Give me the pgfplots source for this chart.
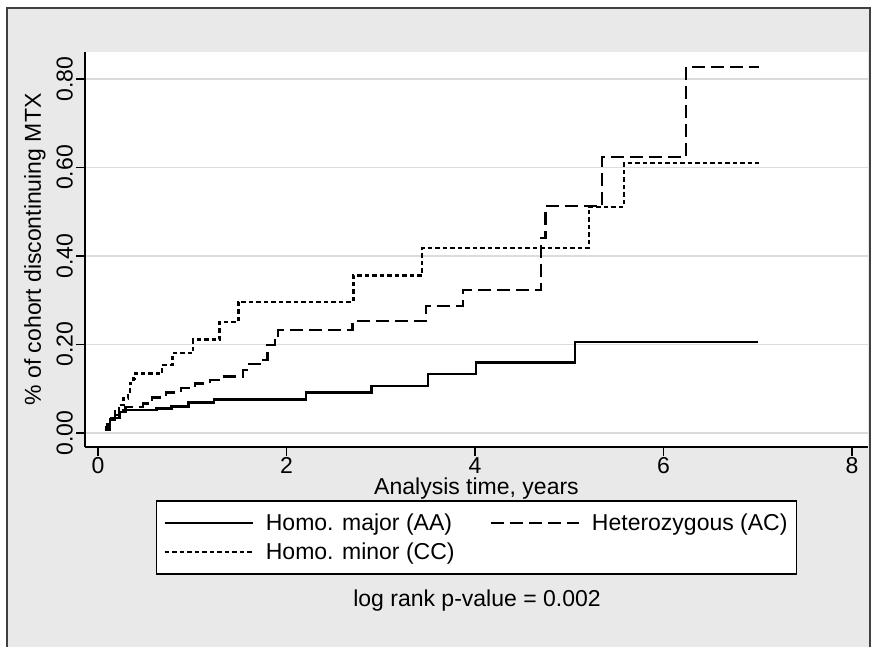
\documentclass[border=0pt]{standalone}
\usepackage{fontspec}
\setmainfont{Liberation Sans}
\usepackage{pgfplots}
\pgfplotsset{compat=1.18}

\definecolor{bggray}{gray}{0.915}
\definecolor{gridgray}{gray}{0.86}
\newcommand{\lab}{\fontsize{23}{23}\selectfont}

% step data: time (years), cumulative failure after the step
\pgfplotstableread{
t v
0.07 0.007
0.10 0.020
0.13 0.030
0.18 0.040
0.23 0.047
0.27 0.051
0.62 0.055
0.78 0.060
0.96 0.069
1.23 0.075
2.21 0.091
2.90 0.106
3.50 0.133
4.01 0.159
5.06 0.206
7.00 0.206
}\major
\pgfplotstableread{
t v
0.07 0.007
0.13 0.033
0.23 0.048
0.29 0.058
0.48 0.066
0.57 0.080
0.72 0.091
0.88 0.102
1.03 0.112
1.19 0.120
1.30 0.127
1.54 0.142
1.58 0.155
1.75 0.165
1.80 0.198
1.88 0.209
1.91 0.232
2.70 0.253
3.48 0.287
3.87 0.323
4.70 0.440
4.75 0.513
5.35 0.624
6.24 0.827
7.01 0.827
}\hetero
\pgfplotstableread{
t v
0.07 0.012
0.13 0.033
0.18 0.048
0.22 0.063
0.27 0.078
0.32 0.093
0.34 0.112
0.375 0.123
0.39 0.134
0.68 0.153
0.79 0.180
1.01 0.211
1.29 0.251
1.49 0.296
2.71 0.356
3.44 0.418
5.21 0.511
5.58 0.610
7.01 0.610
}\minor

\begin{document}
\begin{tikzpicture}
\useasboundingbox (0pt,0pt) rectangle (875pt,646pt);
\fill[white] (0pt,0pt) rectangle (875pt,646pt);
\filldraw[fill=bggray, draw=black!75, line width=1.2pt] (7pt,-2pt) rectangle (870pt,638pt);

\begin{axis}[
  at={(85pt,199pt)}, anchor=south west,
  scale only axis, width=783pt, height=395pt,
  xmin=-0.138, xmax=8.17,
  ymin=-0.032, ymax=0.861,
  axis x line*=bottom, axis y line*=left,
  axis line style={-, line width=2pt},
  axis background/.style={fill=white},
  xtick={0,2,4,6,8},
  ytick={0,0.2,0.4,0.6,0.8},
  tick align=outside,
  major tick length=9pt,
  tick style={black, line width=1.6pt},
  ymajorgrids,
  grid style={gridgray, line width=1.6pt},
  /pgf/number format/assume math mode=true,
  tick label style={font=\lab},
  xticklabel style={inner sep=1pt},
  yticklabel style={rotate=90, anchor=south, inner sep=3pt,
    /pgf/number format/fixed, /pgf/number format/fixed zerofill,
    /pgf/number format/precision=2},
  xlabel={Analysis time, years},
  ylabel={\% of cohort discontinuing MTX},
  label style={font=\lab, inner sep=0pt},
  xlabel style={at={(axis description cs:0.5,-0.1045)}, anchor=center},
  ylabel style={at={(axis description cs:-0.0639,0.5)}, anchor=center},
  legend columns=2,
  legend image code/.code={\draw[line width=2.4pt, #1] (0pt,0pt) -- (88pt,0pt);},
  legend style={at={(axis description cs:0.5,-0.134)}, anchor=north,
    draw=black, line width=1.6pt, fill=white, font=\lab,
    inner xsep=7pt, inner ysep=11pt, row sep=7pt,
    cells={anchor=west},
    /tikz/every odd column/.append style={column sep=10pt},
    /tikz/every even column/.append style={column sep=33pt}},
  const plot,
]
\addplot[black, line width=2.4pt] table[x=t, y=v] {\major};
\addplot[black, line width=2.4pt, dash pattern=on 13pt off 6pt] table[x=t, y=v] {\hetero};
\addplot[black, line width=2.4pt, dash pattern=on 4.5pt off 3pt] table[x=t, y=v] {\minor};
\legend{Homo. major (AA), Heterozygous (AC), Homo. minor (CC)}
\end{axis}

\node[font=\lab] at (477pt,45pt) {log rank p-value = 0.002};
\end{tikzpicture}
\end{document}
